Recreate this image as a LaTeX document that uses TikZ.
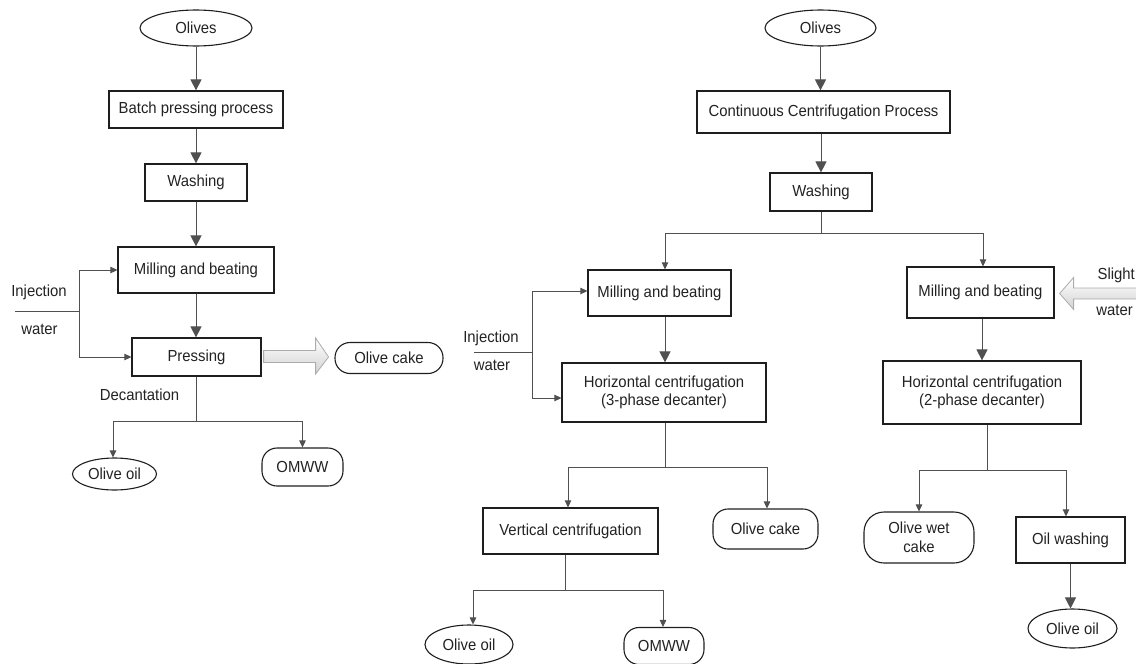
\documentclass[tikz,border=0pt]{standalone}
\usepackage{fontspec}
\setmainfont{Liberation Sans}[FakeStretch=0.93]
\usetikzlibrary{arrows.meta,shapes.geometric}
\definecolor{ln}{HTML}{505050}
\definecolor{bd}{HTML}{1E1E1E}
\definecolor{tx}{HTML}{222222}
\newcommand\diafont{\fontsize{16}{18.5}\selectfont}
\tikzset{
  base/.style={inner sep=0pt, align=center, text=tx, font=\diafont},
  box/.style={base, draw=bd, line width=1.2pt, rectangle},
  oval/.style={base, draw=bd, line width=1.1pt, ellipse},
  pill/.style={base, draw=bd, line width=1.1pt, rectangle, rounded corners=15pt},
  txt/.style={base},
  conn/.style={draw=ln, line width=0.9pt},
  small/.style={conn, -{Triangle[length=7pt,width=6.5pt]}},
  big/.style={conn, -{Triangle[length=11pt,width=11pt]}},
  hollow/.style={draw=gray!65, line width=0.8pt, top color=white, bottom color=gray!35}
}
\begin{document}
\begin{tikzpicture}[x=1pt,y=-1pt]
\useasboundingbox (0,0) rectangle (1136,664);
% ---------------- left: batch pressing ----------------
\node[oval, minimum width=112pt, minimum height=36pt] (lol) at (196,28) {Olives};
\node[box, minimum width=174pt, minimum height=37pt] (lbp) at (196,109.5) {Batch pressing process};
\node[box, minimum width=102pt, minimum height=37pt] (lwa) at (196,182.5) {Washing};
\node[box, minimum width=156pt, minimum height=46pt] (lmb) at (196,270) {Milling and beating};
\node[box, minimum width=129pt, minimum height=38pt] (lpr) at (196.5,357) {Pressing};
\node[pill, minimum width=108pt, minimum height=31pt] (lcake) at (389,358) {Olive cake};
\node[oval, minimum width=84pt, minimum height=32pt] (loil) at (114.5,474) {Olive oil};
\node[pill, minimum width=81pt, minimum height=38pt] (lomww) at (302.5,467) {OMWW};
\node[txt] (linj) at (39,292) {Injection};
\node[txt] (lwat) at (39.5,329) {water};
\node[txt] (ldec) at (139.5,395) {Decantation};
\coordinate (linjs) at (15,311);
\coordinate (ljx) at (79,311);
\coordinate (ldj) at (196.5,421);

\draw[big] (lol) -- (lbp);
\draw[big] (lbp) -- (lwa);
\draw[big] (lwa) -- (lmb);
\draw[big] (lmb.south) -- (lmb.south |- lpr.north);
\draw[conn] (linjs) -- (ljx);
\draw[small] (ljx) |- (lmb.west);
\draw[small] (ljx) |- (lpr.west);
\path[hollow, shift={(lpr.east)}] (2,-6.5) -- (54,-6.5) -- (54,-19) -- (67,0) -- (54,17) -- (54,5.5) -- (2,5.5) -- cycle;
\draw[conn] (lpr.south) -- (ldj);
\draw[small] (ldj) -| ([xshift=-1.5pt]loil.north);
\draw[small] (ldj) -| (lomww.north);

% ---------------- right: continuous centrifugation ----------------
\node[oval, minimum width=111pt, minimum height=36pt] (rol) at (820.5,28) {Olives};
\node[box, minimum width=253pt, minimum height=42pt] (rcc) at (823.5,112) {Continuous Centrifugation Process};
\node[box, minimum width=102pt, minimum height=38pt] (rwa) at (821,192) {Washing};
\node[box, minimum width=143pt, minimum height=46pt] (rmb1) at (659.5,293) {Milling and beating};
\node[box, minimum width=147pt, minimum height=51pt] (rmb2) at (980.5,292.5) {Milling and beating};
\node[box, minimum width=204pt, minimum height=59pt] (rhc3) at (664,392.5) {Horizontal centrifugation\\(3-phase decanter)};
\node[box, minimum width=198pt, minimum height=63pt] (rhc2) at (982,392.5) {Horizontal centrifugation\\(2-phase decanter)};
\node[box, minimum width=175pt, minimum height=46pt] (rvc) at (570.5,531) {Vertical centrifugation};
\node[pill, minimum width=105pt, minimum height=40pt] (rcake) at (765.5,529) {Olive cake};
\node[oval, minimum width=88pt, minimum height=39pt] (roil1) at (469,644.5) {Olive oil};
\node[pill, minimum width=80pt, minimum height=37pt] (romww) at (664,646) {OMWW};
\node[pill, rounded corners=20pt, minimum width=110pt, minimum height=51pt] (rwet) at (919,537.5) {Olive wet\\cake};
\node[box, minimum width=109pt, minimum height=46pt] (row) at (1070.5,540) {Oil washing};
\node[oval, minimum width=89pt, minimum height=39pt] (roil2) at (1072.5,628.5) {Olive oil};
\node[txt] (rinj) at (491,338) {Injection};
\node[txt] (rwat) at (492,365) {water};
\node[txt, anchor=east] (rsl) at (1135,275) {Slight};
\node[txt, anchor=east] (rslw) at (1133,310) {water};
\coordinate (rsj) at (821,233);
\coordinate (rinjs) at (474,352);
\coordinate (rjx) at (532.5,352);
\coordinate (r3j) at (665,467);
\coordinate (rvj) at (565,590);
\coordinate (r2j) at (987,470);

\draw[big] (rol.south) -- (rol.south |- rcc.north);
\draw[big] (rcc.south -| rwa.north) -- (rwa.north);
\draw[conn] (rwa.south) -- (rsj);
\draw[small] (rsj) -| ([xshift=5.5pt]rmb1.north);
\draw[small] (rsj) -| ([xshift=2.5pt]rmb2.north);
\draw[big] ([xshift=5.5pt]rmb1.south) -- ([xshift=5.5pt]rmb1.south |- rhc3.north);
\draw[big] (rhc2.north |- rmb2.south) -- (rhc2.north);
\draw[conn] (rinjs) -- (rjx);
\draw[small] (rjx) |- ([yshift=2pt]rmb1.west);
\draw[small] (rjx) |- ([yshift=-5.5pt]rhc3.west);
\path[hollow, shift={(rmb2.east)}] (5,1) -- (19,-15) -- (19,-4.5) -- (82,-4.5) -- (82,6.5) -- (19,6.5) -- (19,17) -- cycle;
\draw[conn] ([xshift=1pt]rhc3.south) -- (r3j);
\draw[small] (r3j) -| ([xshift=-2.5pt]rvc.north);
\draw[small] (r3j) -| ([xshift=1.5pt]rcake.north);
\draw[conn] ([xshift=-5.5pt]rvc.south) -- (rvj);
\draw[small] (rvj) -| ([xshift=4pt]roil1.north);
\draw[small] (rvj) -| ([xshift=-1pt]romww.north);
\draw[conn] ([xshift=5pt]rhc2.south) -- (r2j);
\draw[small] (r2j) -| (rwet.north);
\draw[small] (r2j) -| ([xshift=-4.5pt]row.north);
\draw[big] (row.south) -- (row.south |- roil2.north);
\end{tikzpicture}
\end{document}
